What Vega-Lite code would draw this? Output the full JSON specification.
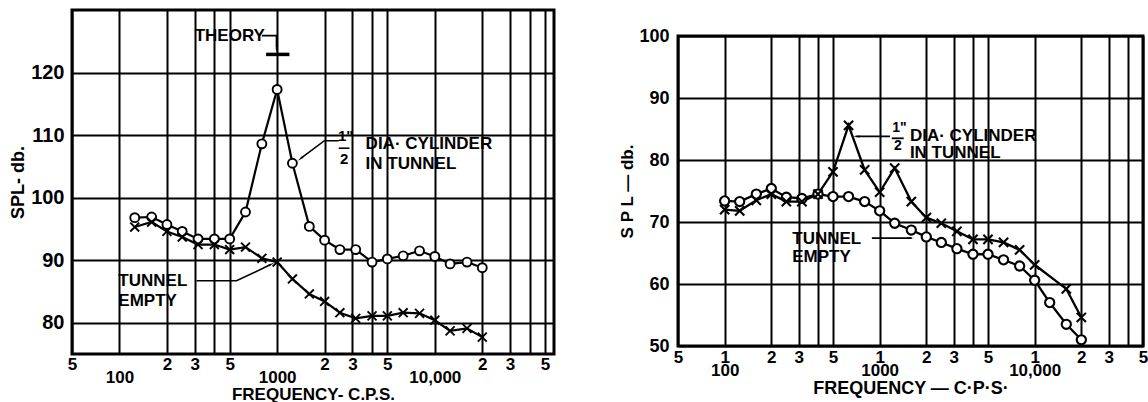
{
  "$schema": "https://vega.github.io/schema/vega-lite/v6.json",
  "background": "white",
  "padding": {"left": 8, "top": 8, "right": 0, "bottom": 0},
  "spacing": 61,
  "config": {
    "view": {"stroke": null},
    "font": "Liberation Sans",
    "axis": {
      "grid": true, "gridColor": "black", "gridOpacity": 1, "gridWidth": 2,
      "domain": false, "ticks": false,
      "labelFont": "Liberation Sans", "labelFontWeight": "bold", "labelColor": "black",
      "titleFont": "Liberation Sans", "titleFontWeight": "bold", "titleColor": "black",
      "labelOverlap": false, "labelBound": false, "labelFlush": false
    },
    "text": {"font": "Liberation Sans", "fontWeight": "bold", "color": "black"}
  },
  "datasets": {
    "leftSeries": [
      {"s": "cyl", "m": "o", "f": 125, "v": 96.8}, {"s": "cyl", "m": "o", "f": 160, "v": 96.9},
      {"s": "cyl", "m": "o", "f": 200, "v": 95.7}, {"s": "cyl", "m": "o", "f": 250, "v": 94.6},
      {"s": "cyl", "m": "o", "f": 315, "v": 93.4}, {"s": "cyl", "m": "o", "f": 400, "v": 93.4},
      {"s": "cyl", "m": "o", "f": 500, "v": 93.4}, {"s": "cyl", "m": "o", "f": 630, "v": 97.7},
      {"s": "cyl", "m": "o", "f": 800, "v": 108.6}, {"s": "cyl", "m": "o", "f": 1000, "v": 117.3},
      {"s": "cyl", "m": "o", "f": 1250, "v": 105.5}, {"s": "cyl", "m": "o", "f": 1600, "v": 95.4},
      {"s": "cyl", "m": "o", "f": 2000, "v": 93.2}, {"s": "cyl", "m": "o", "f": 2500, "v": 91.7},
      {"s": "cyl", "m": "o", "f": 3150, "v": 91.7}, {"s": "cyl", "m": "o", "f": 4000, "v": 89.7},
      {"s": "cyl", "m": "o", "f": 5000, "v": 90.2}, {"s": "cyl", "m": "o", "f": 6300, "v": 90.7},
      {"s": "cyl", "m": "o", "f": 8000, "v": 91.5}, {"s": "cyl", "m": "o", "f": 10000, "v": 90.6},
      {"s": "cyl", "m": "o", "f": 12500, "v": 89.4}, {"s": "cyl", "m": "o", "f": 16000, "v": 89.7},
      {"s": "cyl", "m": "o", "f": 20000, "v": 88.8},
      {"s": "emp", "m": "x", "f": 125, "v": 95.3}, {"s": "emp", "m": "x", "f": 160, "v": 96.1},
      {"s": "emp", "m": "x", "f": 200, "v": 94.6}, {"s": "emp", "m": "x", "f": 250, "v": 93.7},
      {"s": "emp", "m": "x", "f": 315, "v": 92.5}, {"s": "emp", "m": "x", "f": 400, "v": 92.5},
      {"s": "emp", "m": "x", "f": 500, "v": 91.7}, {"s": "emp", "m": "x", "f": 630, "v": 92.1},
      {"s": "emp", "m": "x", "f": 800, "v": 90.3}, {"s": "emp", "m": "x", "f": 1000, "v": 89.7},
      {"s": "emp", "m": "x", "f": 1250, "v": 87.0}, {"s": "emp", "m": "x", "f": 1600, "v": 84.6},
      {"s": "emp", "m": "x", "f": 2000, "v": 83.4}, {"s": "emp", "m": "x", "f": 2500, "v": 81.6},
      {"s": "emp", "m": "x", "f": 3150, "v": 80.7}, {"s": "emp", "m": "x", "f": 4000, "v": 81.1},
      {"s": "emp", "m": "x", "f": 5000, "v": 81.1}, {"s": "emp", "m": "x", "f": 6300, "v": 81.6},
      {"s": "emp", "m": "x", "f": 8000, "v": 81.5}, {"s": "emp", "m": "x", "f": 10000, "v": 80.4},
      {"s": "emp", "m": "x", "f": 12500, "v": 78.7}, {"s": "emp", "m": "x", "f": 16000, "v": 79.1},
      {"s": "emp", "m": "x", "f": 20000, "v": 77.7}
    ],
    "rightSeries": [
      {"s": "emp", "m": "o", "f": 100, "v": 73.4}, {"s": "emp", "m": "o", "f": 125, "v": 73.3},
      {"s": "emp", "m": "o", "f": 160, "v": 74.5}, {"s": "emp", "m": "o", "f": 200, "v": 75.4},
      {"s": "emp", "m": "o", "f": 250, "v": 74.0}, {"s": "emp", "m": "o", "f": 315, "v": 73.8},
      {"s": "emp", "m": "o", "f": 400, "v": 74.5}, {"s": "emp", "m": "o", "f": 500, "v": 74.1},
      {"s": "emp", "m": "o", "f": 630, "v": 74.1}, {"s": "emp", "m": "o", "f": 800, "v": 73.3},
      {"s": "emp", "m": "o", "f": 1000, "v": 71.8}, {"s": "emp", "m": "o", "f": 1250, "v": 69.8},
      {"s": "emp", "m": "o", "f": 1600, "v": 68.7}, {"s": "emp", "m": "o", "f": 2000, "v": 67.6},
      {"s": "emp", "m": "o", "f": 2500, "v": 66.7}, {"s": "emp", "m": "o", "f": 3150, "v": 65.7},
      {"s": "emp", "m": "o", "f": 4000, "v": 64.8}, {"s": "emp", "m": "o", "f": 5000, "v": 64.8},
      {"s": "emp", "m": "o", "f": 6300, "v": 63.9}, {"s": "emp", "m": "o", "f": 8000, "v": 62.9},
      {"s": "emp", "m": "o", "f": 10000, "v": 60.6}, {"s": "emp", "m": "o", "f": 12500, "v": 57.0},
      {"s": "emp", "m": "o", "f": 16000, "v": 53.5}, {"s": "emp", "m": "o", "f": 20000, "v": 51.0},
      {"s": "cyl", "m": "x", "f": 100, "v": 72.0}, {"s": "cyl", "m": "x", "f": 125, "v": 71.8},
      {"s": "cyl", "m": "x", "f": 160, "v": 73.5}, {"s": "cyl", "m": "x", "f": 200, "v": 74.5},
      {"s": "cyl", "m": "x", "f": 250, "v": 73.3}, {"s": "cyl", "m": "x", "f": 315, "v": 73.3},
      {"s": "cyl", "m": "x", "f": 400, "v": 74.5}, {"s": "cyl", "m": "x", "f": 500, "v": 78.1},
      {"s": "cyl", "m": "x", "f": 630, "v": 85.6}, {"s": "cyl", "m": "x", "f": 800, "v": 78.4},
      {"s": "cyl", "m": "x", "f": 1000, "v": 74.8}, {"s": "cyl", "m": "x", "f": 1250, "v": 78.7},
      {"s": "cyl", "m": "x", "f": 1600, "v": 73.3}, {"s": "cyl", "m": "x", "f": 2000, "v": 70.7},
      {"s": "cyl", "m": "x", "f": 2500, "v": 69.8}, {"s": "cyl", "m": "x", "f": 3150, "v": 68.5},
      {"s": "cyl", "m": "x", "f": 4000, "v": 67.2}, {"s": "cyl", "m": "x", "f": 5000, "v": 67.2},
      {"s": "cyl", "m": "x", "f": 6300, "v": 66.7}, {"s": "cyl", "m": "x", "f": 8000, "v": 65.5},
      {"s": "cyl", "m": "x", "f": 10000, "v": 63.1}, {"s": "cyl", "m": "x", "f": 16000, "v": 59.2},
      {"s": "cyl", "m": "x", "f": 20000, "v": 54.6}
    ],
    "leftLeaders": [
      {"id": "th", "k": 1, "f": 800, "v": 125.9}, {"id": "th", "k": 2, "f": 990, "v": 125.9}, {"id": "th", "k": 3, "f": 990, "v": 124.0},
      {"id": "bar", "k": 1, "f": 851, "v": 122.9}, {"id": "bar", "k": 2, "f": 1197, "v": 122.9},
      {"id": "cyl", "k": 1, "f": 2460, "v": 109.1}, {"id": "cyl", "k": 2, "f": 1995, "v": 109.1}, {"id": "cyl", "k": 3, "f": 1419, "v": 106.3},
      {"id": "frac", "k": 1, "f": 2460, "v": 107.9}, {"id": "frac", "k": 2, "f": 2877, "v": 107.9},
      {"id": "emp", "k": 1, "f": 308, "v": 86.7}, {"id": "emp", "k": 2, "f": 553, "v": 86.7}, {"id": "emp", "k": 3, "f": 910, "v": 89.3}
    ],
    "leftHeads": [
      {"id": "th", "f": 990, "v": 123.7},
      {"id": "cyl", "f": 1419, "v": 106.3},
      {"id": "emp", "f": 910, "v": 89.3}
    ],
    "leftTexts": [
      {"t": "THEORY", "f": 300, "v": 125.9},
      {"t": "DIA· CYLINDER", "f": 3640, "v": 108.6},
      {"t": "IN TUNNEL", "f": 3640, "v": 105.4},
      {"t": "TUNNEL", "f": 98.4, "v": 86.6},
      {"t": "EMPTY", "f": 98.4, "v": 83.4}
    ],
    "leftFrac": [
      {"t": "1\"", "f": 2720, "v": 109.9},
      {"t": "2", "f": 2660, "v": 106.2}
    ],
    "rightLeaders": [
      {"id": "cyl", "k": 1, "f": 1166, "v": 83.8}, {"id": "cyl", "k": 2, "f": 700, "v": 83.8},
      {"id": "frac", "k": 1, "f": 1197, "v": 83.5}, {"id": "frac", "k": 2, "f": 1429, "v": 83.5},
      {"id": "emp", "k": 1, "f": 891, "v": 67.4}, {"id": "emp", "k": 2, "f": 1610, "v": 67.4}
    ],
    "rightHeads": [
      {"id": "cyl", "f": 720, "v": 83.8},
      {"id": "emp", "f": 1560, "v": 67.4}
    ],
    "rightTexts": [
      {"t": "DIA· CYLINDER", "f": 1567, "v": 83.9},
      {"t": "IN TUNNEL", "f": 1567, "v": 81.1},
      {"t": "TUNNEL", "f": 273, "v": 67.2},
      {"t": "EMPTY", "f": 273, "v": 64.4}
    ],
    "rightFrac": [
      {"t": "1\"", "f": 1340, "v": 85.1},
      {"t": "2", "f": 1312, "v": 82.2}
    ],
    "spacer": [{}]
  },
  "hconcat": [
    {
      "width": 482,
      "height": 344,
      "view": {"stroke": "black", "strokeWidth": 3},
      "encoding": {
        "x": {
          "field": "f", "type": "quantitative",
          "scale": {"type": "log", "domain": [50, 57000]},
          "axis": {
            "values": [50, 100, 200, 300, 400, 500, 1000, 2000, 3000, 4000, 5000, 10000, 20000, 30000, 40000, 50000],
            "labelExpr": "datum.value == 100 ? ['', '100'] : datum.value == 1000 ? ['', '1000'] : datum.value == 10000 ? ['', '10,000'] : (datum.value == 400 || datum.value == 4000 || datum.value == 40000) ? '' : substring('' + datum.value, 0, 1)",
            "labelFontSize": 17, "labelLineHeight": 13, "labelPadding": 2, "labelBaseline": "top",
            "title": "FREQUENCY- C.P.S.", "titleFontSize": 17, "titlePadding": 1
          }
        },
        "y": {
          "field": "v", "type": "quantitative",
          "scale": {"domain": [75, 130], "zero": false, "nice": false},
          "axis": {
            "values": [80, 90, 100, 110, 120],
            "labelFontSize": 20, "labelPadding": 8,
            "title": "SPL- db.", "titleFontSize": 18, "titlePadding": 3
          }
        }
      },
      "layer": [
        {"data": {"name": "leftSeries"}, "mark": {"type": "line", "color": "black", "strokeWidth": 2.2}, "encoding": {"detail": {"field": "s"}}},
        {"data": {"name": "leftSeries"}, "mark": {"type": "point", "filled": true, "fill": "white", "stroke": "black", "strokeWidth": 1.9, "size": 80, "opacity": 1},
          "encoding": {"shape": {"field": "m", "type": "nominal", "scale": {"domain": ["o", "x"], "range": ["circle", "M-1,-1L1,1M-1,1L1,-1"]}, "legend": null}}},
        {"data": {"name": "leftLeaders"}, "transform": [{"filter": "datum.id != 'bar'"}], "mark": {"type": "line", "color": "black", "strokeWidth": 1.6}, "encoding": {"detail": {"field": "id"}, "order": {"field": "k"}}},
        {"data": {"name": "leftLeaders"}, "transform": [{"filter": "datum.id == 'bar'"}], "mark": {"type": "line", "color": "black", "strokeWidth": 3.5}, "encoding": {"detail": {"field": "id"}, "order": {"field": "k"}}},
        {"data": {"name": "leftHeads"}, "transform": [{"filter": "datum.id == 'th'"}], "mark": {"type": "point", "shape": "wedge", "filled": true, "color": "black", "size": 45, "angle": 180, "opacity": 1}, "encoding": {}},
        {"data": {"name": "leftHeads"}, "transform": [{"filter": "datum.id == 'cyl'"}], "mark": {"type": "point", "shape": "wedge", "filled": true, "color": "black", "size": 60, "angle": 233, "opacity": 1}, "encoding": {}},
        {"data": {"name": "leftHeads"}, "transform": [{"filter": "datum.id == 'emp'"}], "mark": {"type": "point", "shape": "wedge", "filled": true, "color": "black", "size": 60, "angle": 64, "opacity": 1}, "encoding": {}},
        {"data": {"name": "leftTexts"}, "mark": {"type": "text", "align": "left", "baseline": "middle", "fontSize": 17}, "encoding": {"text": {"field": "t"}}},
        {"data": {"name": "leftFrac"}, "mark": {"type": "text", "align": "center", "baseline": "middle", "fontSize": 15}, "encoding": {"text": {"field": "t"}}}
      ]
    },
    {
      "spacing": 0,
      "vconcat": [
        {
          "width": 466, "height": 15,
          "data": {"name": "spacer"},
          "mark": {"type": "point", "opacity": 0},
          "encoding": {}
        },
        {
          "width": 465,
          "height": 310,
          "view": {"stroke": "black", "strokeWidth": 3},
          "encoding": {
            "x": {
              "field": "f", "type": "quantitative",
              "scale": {"type": "log", "domain": [50, 50000]},
              "axis": {
                "values": [50, 100, 200, 300, 400, 500, 1000, 2000, 3000, 4000, 5000, 10000, 20000, 30000, 40000, 50000],
                "labelExpr": "datum.value == 100 ? ['1', '100'] : datum.value == 1000 ? ['1', '1000'] : datum.value == 10000 ? ['1', '10,000'] : (datum.value == 400 || datum.value == 4000 || datum.value == 40000) ? '' : substring('' + datum.value, 0, 1)",
                "labelFontSize": 17, "labelLineHeight": 13, "labelPadding": 3, "labelBaseline": "top",
                "title": "FREQUENCY  — C·P·S·", "titleFontSize": 18, "titlePadding": 1
              }
            },
            "y": {
              "field": "v", "type": "quantitative",
              "scale": {"domain": [50, 100], "zero": false, "nice": false},
              "axis": {
                "values": [50, 60, 70, 80, 90, 100],
                "labelFontSize": 18, "labelPadding": 9,
                "title": "S P L — db.", "titleFontSize": 17, "titlePadding": 2
              }
            }
          },
          "layer": [
            {"data": {"name": "rightSeries"}, "mark": {"type": "line", "color": "black", "strokeWidth": 2.3}, "encoding": {"detail": {"field": "s"}}},
            {"data": {"name": "rightSeries"}, "mark": {"type": "point", "filled": true, "fill": "white", "stroke": "black", "strokeWidth": 2.1, "size": 85, "opacity": 1},
              "encoding": {"shape": {"field": "m", "type": "nominal", "scale": {"domain": ["o", "x"], "range": ["circle", "M-1,-1L1,1M-1,1L1,-1"]}, "legend": null}}},
            {"data": {"name": "rightLeaders"}, "mark": {"type": "line", "color": "black", "strokeWidth": 1.8}, "encoding": {"detail": {"field": "id"}, "order": {"field": "k"}}},
            {"data": {"name": "rightHeads"}, "transform": [{"filter": "datum.id == 'cyl'"}], "mark": {"type": "point", "shape": "wedge", "filled": true, "color": "black", "size": 60, "angle": 270, "opacity": 1}, "encoding": {}},
            {"data": {"name": "rightHeads"}, "transform": [{"filter": "datum.id == 'emp'"}], "mark": {"type": "point", "shape": "wedge", "filled": true, "color": "black", "size": 60, "angle": 90, "opacity": 1}, "encoding": {}},
            {"data": {"name": "rightTexts"}, "mark": {"type": "text", "align": "left", "baseline": "middle", "fontSize": 17}, "encoding": {"text": {"field": "t"}}},
            {"data": {"name": "rightFrac"}, "mark": {"type": "text", "align": "center", "baseline": "middle", "fontSize": 14}, "encoding": {"text": {"field": "t"}}}
          ]
        }
      ]
    }
  ]
}
